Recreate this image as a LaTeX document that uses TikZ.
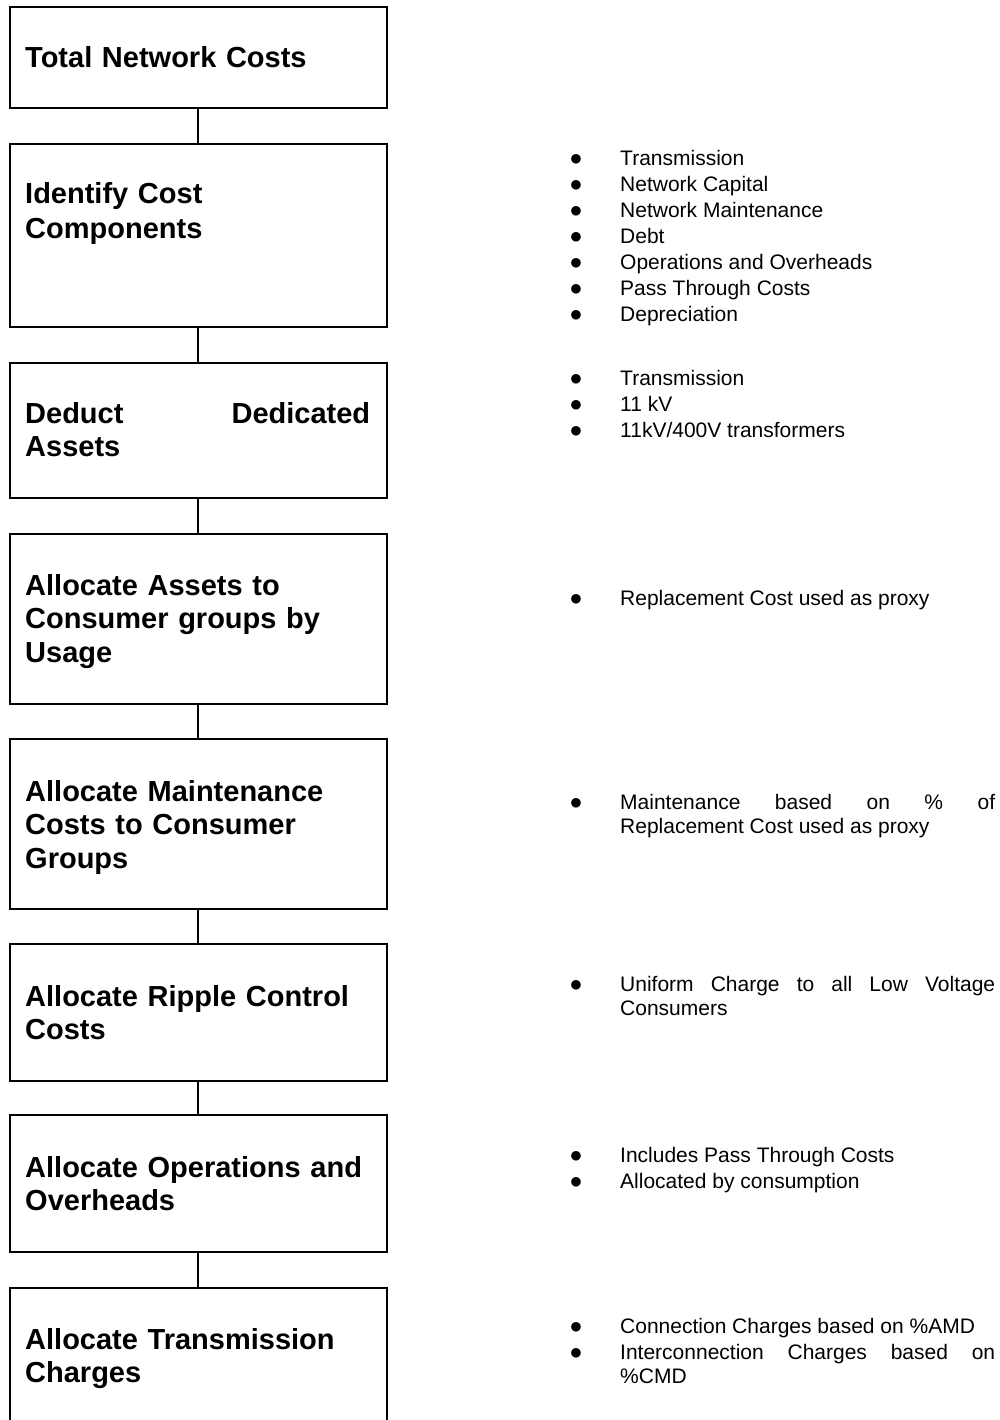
\documentclass[tikz,border=0pt]{standalone}
\usepackage{fontspec}
\setmainfont{Liberation Sans}
\tolerance=9999
\hbadness=10000
\hyphenpenalty=10000
\newcommand{\bfirst}{\llap{\makebox[88pt]{\fontsize{27}{27}\selectfont$\bullet$}}}
\newcommand{\blt}{\par\setlength{\parskip}{1.5pt}\noindent\bfirst}

\tikzset{
  stepbox/.style={draw, line width=2pt, minimum width=376.7pt, inner sep=0pt},
  link/.style={line width=2pt},
  steptitle/.style={anchor=base west, inner sep=0pt, text width=345pt, align=left,
    font=\fontsize{29}{33.5}\selectfont\bfseries},
  notes/.style={anchor=base west, inner sep=0pt, text width=375pt, align=justify,
    font=\fontsize{21}{24.5}\selectfont}
}

\begin{document}
\begin{tikzpicture}[x=1pt,y=-1pt]
  \useasboundingbox (0,0) rectangle (1000,1420);
  % the steps
  \node[stepbox, minimum height=101pt] (total)    at (198.3,  57.5) {};
  \node[stepbox, minimum height=183pt] (identify) at (198.3, 235.5) {};
  \node[stepbox, minimum height=135pt] (deduct)   at (198.3, 430.5) {};
  \node[stepbox, minimum height=169.5pt] (assets) at (198.3, 618.75) {};
  \node[stepbox, minimum height=170pt] (maint)    at (198.3, 824.0) {};
  \node[stepbox, minimum height=137pt] (ripple)   at (198.3,1012.5) {};
  \node[stepbox, minimum height=137pt] (ops)      at (198.3,1183.5) {};
  \node[stepbox, minimum height=140pt] (trans)    at (198.3,1358.0) {};
  \draw[link] (total)    -- (identify);
  \draw[link] (identify) -- (deduct);
  \draw[link] (deduct)   -- (assets);
  \draw[link] (assets)   -- (maint);
  \draw[link] (maint)    -- (ripple);
  \draw[link] (ripple)   -- (ops);
  \draw[link] (ops)      -- (trans);
  % titles
  \node[steptitle] (total-t)    at (25,  68) {Total Network Costs};
  \node[steptitle] (identify-t) at (25, 204) {Identify Cost\\[1.5pt]Components};
  \node[steptitle] (deduct-t)   at (25, 423) {Deduct\hfill Dedicated\\Assets};
  \node[steptitle] (assets-t)   at (25, 595) {Allocate Assets to\\Consumer groups by\\Usage};
  \node[steptitle] (maint-t)    at (25, 801) {Allocate Maintenance\\Costs to Consumer\\Groups};
  \node[steptitle] (ripple-t)   at (25,1006) {Allocate Ripple Control\\Costs};
  \node[steptitle] (ops-t)      at (25,1177) {Allocate Operations and\\Overheads};
  \node[steptitle] (trans-t)    at (25,1349) {Allocate Transmission\\Charges};
  % notes
  \node[notes] (identify-l) at (620, 166) {\bfirst Transmission \blt Network Capital
    \blt Network Maintenance \blt Debt \blt Operations and Overheads
    \blt Pass Through Costs \blt Depreciation};
  \node[notes] (deduct-l) at (620, 385) {\bfirst Transmission \blt 11 kV \blt 11kV/400V transformers};
  \node[notes] (assets-l) at (620, 605) {\bfirst Replacement Cost used as proxy};
  \node[notes] (maint-l)  at (620, 809) {\bfirst Maintenance based on \% of Replacement Cost used as proxy};
  \node[notes] (ripple-l) at (620, 991) {\bfirst Uniform Charge to all Low Voltage Consumers};
  \node[notes] (ops-l)    at (620,1162) {\bfirst Includes Pass Through Costs \blt Allocated by consumption};
  \node[notes] (trans-l)  at (620,1333) {\bfirst Connection Charges based on \%AMD
    \blt Interconnection Charges based on \%CMD};
\end{tikzpicture}
\end{document}
